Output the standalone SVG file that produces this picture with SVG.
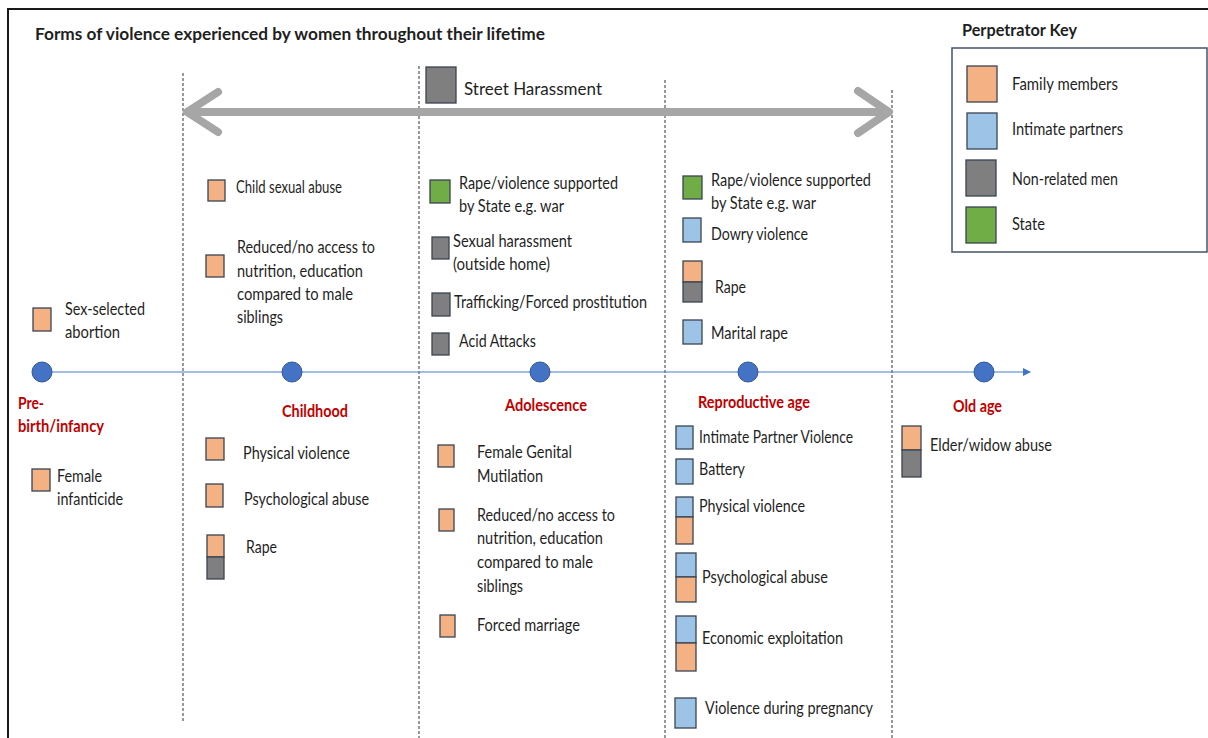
<svg xmlns="http://www.w3.org/2000/svg" width="1208" height="738" viewBox="0 0 1208 738">
<defs>
<style>
.t{font-family:Lato,"Liberation Sans",sans-serif;font-size:17px;fill:#1f1f1f}
.bd{font-weight:bold}
.h{font-family:Lato,"Liberation Sans",sans-serif;font-size:17px;font-weight:bold;fill:#c00000}
.sq{stroke:#3a4454;stroke-width:1.3}
.o{fill:#f4b183}.b{fill:#9dc3e6}.g{fill:#7f7f7f}.gr{fill:#70ad47}
.dv{stroke:#333;stroke-width:1;stroke-dasharray:3 2;fill:none}
.ga{stroke:#a6a6a6;stroke-width:8;fill:none;stroke-linecap:round;stroke-linejoin:round}
.dot{fill:#4472c4;stroke:#2f5597;stroke-width:1}
</style>
<marker id="tl" markerWidth="8" markerHeight="8" refX="7" refY="4" orient="auto" markerUnits="userSpaceOnUse">
<path d="M0,0 L8,4 L0,8 Z" fill="#4472c4"/>
</marker>
</defs>
<rect x="0" y="0" width="1208" height="738" fill="#fff"/>
<rect x="8" y="9" width="1215" height="745" fill="none" stroke="#1a1a1a" stroke-width="2"/>

<text class="t bd" x="35" y="40" textLength="510" lengthAdjust="spacingAndGlyphs">Forms of violence experienced by women throughout their lifetime</text>

<g id="dividers">
<line class="dv" x1="183" y1="73" x2="183" y2="723"/>
<line class="dv" x1="419" y1="66" x2="419" y2="738"/>
<line class="dv" x1="665" y1="80" x2="665" y2="738"/>
<line class="dv" x1="892" y1="90" x2="892" y2="738"/>
</g>

<g id="connectors">
<line x1="42" y1="372" x2="1030" y2="372" stroke="#4a7cc7" stroke-width="1.2" marker-end="url(#tl)"/>
<line class="ga" x1="190" y1="112" x2="885" y2="112"/>
<polyline class="ga" points="218,92 187,112 218,132"/>
<polyline class="ga" points="858,91 889,112 858,133"/>
</g>

<g id="street-harassment">
<rect class="sq g" x="426" y="67" width="30" height="36"/>
<text class="t" x="464" y="95" textLength="138" lengthAdjust="spacingAndGlyphs">Street Harassment</text>
</g>

<g id="perpetrator-key">
<text class="t bd" x="962" y="36" textLength="115" lengthAdjust="spacingAndGlyphs">Perpetrator Key</text>
<rect x="952" y="48" width="255" height="204" fill="#fff" stroke="#44546a" stroke-width="1.5"/>
<rect class="sq o" x="967" y="66" width="30" height="36"/>
<text class="t" x="1012" y="90" textLength="106" lengthAdjust="spacingAndGlyphs">Family members</text>
<rect class="sq b" x="967" y="113" width="30" height="36"/>
<text class="t" x="1012" y="135" textLength="111" lengthAdjust="spacingAndGlyphs">Intimate partners</text>
<rect class="sq g" x="966" y="160" width="30" height="36"/>
<text class="t" x="1012" y="185" textLength="106" lengthAdjust="spacingAndGlyphs">Non-related men</text>
<rect class="sq gr" x="966" y="207" width="30" height="36"/>
<text class="t" x="1012" y="230" textLength="33" lengthAdjust="spacingAndGlyphs">State</text>
</g>

<g id="stage-prebirth">
<circle class="dot" cx="42" cy="372" r="10"/>
<text class="h" x="18" y="409" textLength="26" lengthAdjust="spacingAndGlyphs">Pre-</text>
<text class="h" x="18" y="432" textLength="86" lengthAdjust="spacingAndGlyphs">birth/infancy</text>
</g>
<g id="stage-childhood">
<circle class="dot" cx="292" cy="372" r="10"/>
<text class="h" x="282" y="417" textLength="66" lengthAdjust="spacingAndGlyphs">Childhood</text>
</g>
<g id="stage-adolescence">
<circle class="dot" cx="540" cy="372" r="10"/>
<text class="h" x="505" y="411" textLength="82" lengthAdjust="spacingAndGlyphs">Adolescence</text>
</g>
<g id="stage-reproductive">
<circle class="dot" cx="748" cy="372" r="10"/>
<text class="h" x="698" y="408" textLength="112" lengthAdjust="spacingAndGlyphs">Reproductive age</text>
</g>
<g id="stage-oldage">
<circle class="dot" cx="984" cy="372" r="10"/>
<text class="h" x="953" y="412" textLength="49" lengthAdjust="spacingAndGlyphs">Old age</text>
</g>

<g id="item-sex-selected-abortion">
<rect class="sq o" x="33" y="308" width="18" height="23"/>
<text class="t" x="65" y="315" textLength="80" lengthAdjust="spacingAndGlyphs">Sex-selected</text>
<text class="t" x="65" y="338" textLength="55" lengthAdjust="spacingAndGlyphs">abortion</text>
</g>
<g id="item-female-infanticide">
<rect class="sq o" x="32" y="469" width="18" height="22"/>
<text class="t" x="57" y="482" textLength="45" lengthAdjust="spacingAndGlyphs">Female</text>
<text class="t" x="57" y="505" textLength="66" lengthAdjust="spacingAndGlyphs">infanticide</text>
</g>

<g id="item-child-sexual-abuse">
<rect class="sq o" x="208" y="180" width="17" height="21"/>
<text class="t" x="236" y="193" textLength="106" lengthAdjust="spacingAndGlyphs">Child sexual abuse</text>
</g>
<g id="item-child-reduced-access">
<rect class="sq o" x="206" y="255" width="18" height="22"/>
<text class="t" x="237" y="253" textLength="138" lengthAdjust="spacingAndGlyphs">Reduced/no access to</text>
<text class="t" x="237" y="277" textLength="126" lengthAdjust="spacingAndGlyphs">nutrition, education</text>
<text class="t" x="237" y="300" textLength="116" lengthAdjust="spacingAndGlyphs">compared to male</text>
<text class="t" x="237" y="323" textLength="46" lengthAdjust="spacingAndGlyphs">siblings</text>
</g>
<g id="item-child-physical-violence">
<rect class="sq o" x="206" y="438" width="18" height="22"/>
<text class="t" x="243" y="459" textLength="107" lengthAdjust="spacingAndGlyphs">Physical violence</text>
</g>
<g id="item-child-psychological-abuse">
<rect class="sq o" x="206" y="484" width="17" height="23"/>
<text class="t" x="244" y="505" textLength="125" lengthAdjust="spacingAndGlyphs">Psychological abuse</text>
</g>
<g id="item-child-rape">
<rect class="sq o" x="207" y="535" width="17" height="22"/>
<rect class="sq g" x="207" y="557" width="17" height="22"/>
<text class="t" x="246" y="553" textLength="31" lengthAdjust="spacingAndGlyphs">Rape</text>
</g>

<g id="item-adol-state-rape">
<rect class="sq gr" x="430" y="180" width="20" height="23"/>
<text class="t" x="459" y="189" textLength="159" lengthAdjust="spacingAndGlyphs">Rape/violence supported</text>
<text class="t" x="459" y="212" textLength="105" lengthAdjust="spacingAndGlyphs">by State e.g. war</text>
</g>
<g id="item-adol-sexual-harassment">
<rect class="sq g" x="432" y="237" width="17" height="22"/>
<text class="t" x="453" y="247" textLength="119" lengthAdjust="spacingAndGlyphs">Sexual harassment</text>
<text class="t" x="453" y="270" textLength="97" lengthAdjust="spacingAndGlyphs">(outside home)</text>
</g>
<g id="item-adol-trafficking">
<rect class="sq g" x="432" y="293" width="18" height="23"/>
<text class="t" x="454" y="308" textLength="193" lengthAdjust="spacingAndGlyphs">Trafficking/Forced prostitution</text>
</g>
<g id="item-adol-acid-attacks">
<rect class="sq g" x="432" y="333" width="17" height="22"/>
<text class="t" x="459" y="347" textLength="77" lengthAdjust="spacingAndGlyphs">Acid Attacks</text>
</g>
<g id="item-adol-fgm">
<rect class="sq o" x="438" y="445" width="16" height="22"/>
<text class="t" x="477" y="458" textLength="95" lengthAdjust="spacingAndGlyphs">Female Genital</text>
<text class="t" x="477" y="482" textLength="66" lengthAdjust="spacingAndGlyphs">Mutilation</text>
</g>
<g id="item-adol-reduced-access">
<rect class="sq o" x="439" y="509" width="15" height="22"/>
<text class="t" x="477" y="521" textLength="138" lengthAdjust="spacingAndGlyphs">Reduced/no access to</text>
<text class="t" x="477" y="544" textLength="126" lengthAdjust="spacingAndGlyphs">nutrition, education</text>
<text class="t" x="477" y="568" textLength="116" lengthAdjust="spacingAndGlyphs">compared to male</text>
<text class="t" x="477" y="592" textLength="46" lengthAdjust="spacingAndGlyphs">siblings</text>
</g>
<g id="item-adol-forced-marriage">
<rect class="sq o" x="440" y="615" width="15" height="22"/>
<text class="t" x="477" y="631" textLength="103" lengthAdjust="spacingAndGlyphs">Forced marriage</text>
</g>

<g id="item-repro-state-rape">
<rect class="sq gr" x="683" y="176" width="19" height="23"/>
<text class="t" x="711" y="186" textLength="160" lengthAdjust="spacingAndGlyphs">Rape/violence supported</text>
<text class="t" x="711" y="209" textLength="105" lengthAdjust="spacingAndGlyphs">by State e.g. war</text>
</g>
<g id="item-repro-dowry">
<rect class="sq b" x="683" y="218" width="18" height="24"/>
<text class="t" x="711" y="240" textLength="97" lengthAdjust="spacingAndGlyphs">Dowry violence</text>
</g>
<g id="item-repro-rape">
<rect class="sq o" x="683" y="261" width="19" height="21"/>
<rect class="sq g" x="683" y="282" width="19" height="20"/>
<text class="t" x="715" y="293" textLength="31" lengthAdjust="spacingAndGlyphs">Rape</text>
</g>
<g id="item-repro-marital-rape">
<rect class="sq b" x="683" y="320" width="19" height="24"/>
<text class="t" x="711" y="339" textLength="77" lengthAdjust="spacingAndGlyphs">Marital rape</text>
</g>
<g id="item-repro-ipv">
<rect class="sq b" x="676" y="426" width="17" height="23"/>
<text class="t" x="699" y="443" textLength="154" lengthAdjust="spacingAndGlyphs">Intimate Partner Violence</text>
</g>
<g id="item-repro-battery">
<rect class="sq b" x="676" y="459" width="17" height="25"/>
<text class="t" x="699" y="475" textLength="46" lengthAdjust="spacingAndGlyphs">Battery</text>
</g>
<g id="item-repro-physical">
<rect class="sq b" x="676" y="497" width="17" height="20"/>
<rect class="sq o" x="676" y="517" width="17" height="27"/>
<text class="t" x="699" y="512" textLength="106" lengthAdjust="spacingAndGlyphs">Physical violence</text>
</g>
<g id="item-repro-psychological">
<rect class="sq b" x="676" y="553" width="20" height="24"/>
<rect class="sq o" x="676" y="577" width="20" height="25"/>
<text class="t" x="702" y="583" textLength="126" lengthAdjust="spacingAndGlyphs">Psychological abuse</text>
</g>
<g id="item-repro-economic">
<rect class="sq b" x="676" y="616" width="20" height="27"/>
<rect class="sq o" x="676" y="643" width="20" height="28"/>
<text class="t" x="702" y="644" textLength="141" lengthAdjust="spacingAndGlyphs">Economic exploitation</text>
</g>
<g id="item-repro-pregnancy">
<rect class="sq b" x="675" y="698" width="21" height="30"/>
<text class="t" x="705" y="714" textLength="168" lengthAdjust="spacingAndGlyphs">Violence during pregnancy</text>
</g>

<g id="item-old-elder-abuse">
<rect class="sq o" x="902" y="426" width="19" height="24"/>
<rect class="sq g" x="902" y="450" width="19" height="27"/>
<text class="t" x="930" y="451" textLength="122" lengthAdjust="spacingAndGlyphs">Elder/widow abuse</text>
</g>
</svg>
